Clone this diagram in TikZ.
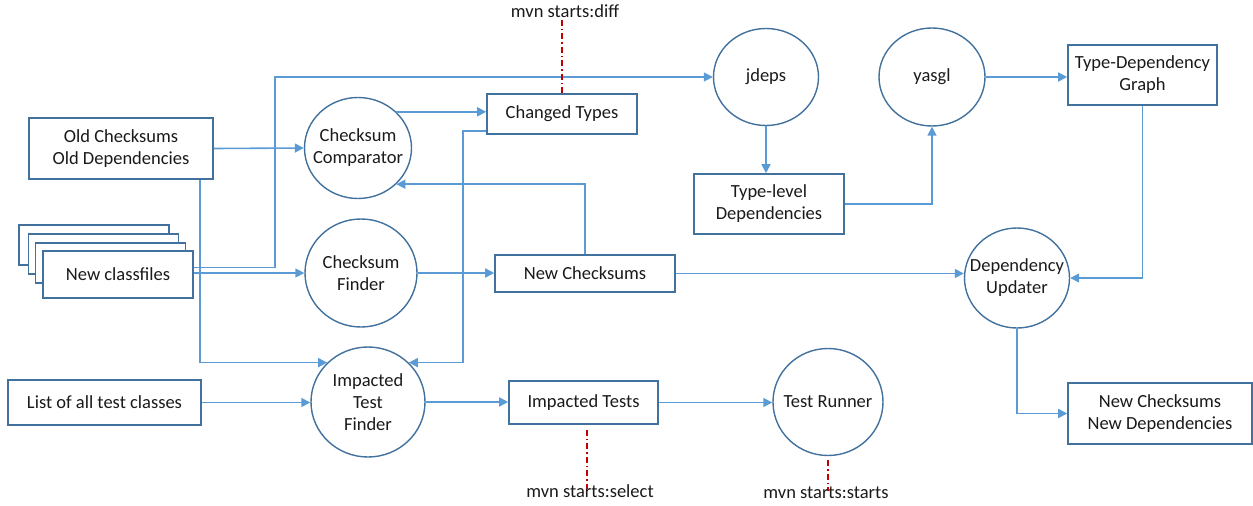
\documentclass[tikz,border=0pt]{standalone}
\usepackage{fontspec}
\setmainfont{Carlito}
\usetikzlibrary{shapes.geometric,arrows.meta,calc}
\definecolor{boxc}{HTML}{41719C}
\definecolor{arrc}{HTML}{5B9BD5}
\definecolor{redc}{HTML}{C00000}
\definecolor{txt}{HTML}{1A1A1A}
\tikzset{
  every node/.style={font=\fontsize{18.5}{22}\selectfont, text=txt},
  boxn/.style={draw=boxc, line width=1.6pt, fill=white, rectangle, align=center, inner sep=0pt},
  circn/.style={draw=boxc, line width=1.4pt, ellipse, inner sep=0pt},
  ctext/.style={align=center, inner sep=0pt},
  arr/.style={draw=arrc, line width=1.6pt, -{Triangle[length=9pt,width=9pt]}},
  redl/.style={draw=redc, line width=1.2pt, dash pattern=on 6pt off 3pt on 1.5pt off 3pt},
  lbl/.style={inner sep=0pt}
}
\begin{document}
\begin{tikzpicture}[x=1pt,y=-1pt]
\useasboundingbox (0,0) rectangle (1253,506);
% boxes
\node[boxn, minimum width=184pt, minimum height=61pt] (old) at (121,148.5) {Old Checksums\\Old Dependencies};
\node[boxn, minimum width=150pt, minimum height=40pt] (nc1) at (94,245) {};
\node[boxn, minimum width=150pt, minimum height=40pt] (nc2) at (103.5,254) {};
\node[boxn, minimum width=150pt, minimum height=40pt] (nc3) at (110.5,263) {};
\node[boxn, minimum width=150pt, minimum height=47pt] (nc) at (118,274.5) {New classfiles};
\node[boxn, minimum width=193pt, minimum height=45pt] (list) at (104.5,402.5) {List of all test classes};
\node[boxn, minimum width=150pt, minimum height=40pt] (ct) at (562,114) {Changed Types};
\node[boxn, minimum width=180pt, minimum height=37pt] (ncs) at (585,273.5) {New Checksums};
\node[boxn, minimum width=150pt, minimum height=60pt] (tld) at (769,204) {Type-level\\Dependencies};
\node[boxn, minimum width=149pt, minimum height=60pt] (tdg) at (1142.5,75) {Type-Dependency\\Graph};
\node[boxn, minimum width=184pt, minimum height=61pt] (ncnd) at (1160,413.5) {New Checksums\\New Dependencies};
\node[boxn, minimum width=149pt, minimum height=43pt] (it) at (583.5,402.5) {Impacted Tests};
% circles
\node[circn, minimum width=107pt, minimum height=101pt] (cc) at (358,148) {};
\node[ctext] (cct) at (cc.center) {Checksum\\Comparator};
\node[circn, minimum width=112pt, minimum height=108pt] (cf) at (361,273) {};
\node[ctext] (cft) at (cf.center) {Checksum\\Finder};
\node[circn, minimum width=114pt, minimum height=110pt] (itf) at (368,402) {};
\node[ctext] (itft) at (itf.center) {Impacted\\Test\\Finder};
\node[circn, minimum width=105pt, minimum height=97pt] (jd) at (766,77) {};
\node[ctext] (jdt) at (jd.center) {jdeps};
\node[circn, minimum width=106pt, minimum height=98pt] (ya) at (932,77) {};
\node[ctext] (yat) at (ya.center) {yasgl};
\node[circn, minimum width=105pt, minimum height=100pt] (du) at (1017,278) {};
\node[ctext] (dut) at (du.center) {Dependency\\Updater};
\node[circn, minimum width=110pt, minimum height=107pt] (tr) at (828,402) {};
\node[ctext] (trt) at (tr.center) {Test Runner};
% labels
\node[lbl] (ldiff) at (565,11) {mvn starts:diff};
\node[lbl] (lsel) at (590,491) {mvn starts:select};
\node[lbl] (lst) at (826,493) {mvn starts:starts};
% connectors
\draw[arr] (old.east) -- (cc.west);
\draw[arr] (nc.east |- cf.west) -- (cf.west);
\draw[arr] ([yshift=7pt]nc.east) -- ++(81,0) |- (jd.west);
\draw[arr] ([xshift=-14pt]old.south east) |- (itf.north west);
\draw[arr] (cc.north east) -- (cc.north east -| ct.west);
\draw[arr] ([yshift=-17pt]ct.west) -- ++(-23,0) |- (itf.north east);
\draw[arr] (ncs.north) |- (cc.south east);
\draw[arr] (cf.east) -- (cf.east -| ncs.west);
\draw[arr] (ncs.east) -- (ncs.east -| du.west);
\draw[arr] (jd.south) -- (jd.south |- tld.north);
\draw[arr] (tld.east) -| (ya.south);
\draw[arr] (ya.east) -- (ya.east -| tdg.west);
\draw[arr] (tdg.south) |- (du.east);
\draw[arr] (du.south) |- (ncnd.west);
\draw[arr] (list.east) -- (list.east -| itf.west);
\draw[arr] (itf.east) -- (itf.east -| it.west);
\draw[arr] (it.east) -- (it.east -| tr.west);
% red markers
\draw[redl] (ct.north) -- (ct.north |- ldiff.south);
\draw[redl] ([xshift=3.5pt,yshift=-5pt]it.south) -- ([xshift=3.5pt,yshift=-5pt]it.south |- lsel.north);
\draw[redl] ([yshift=-4pt]tr.south) -- ([yshift=-4pt]tr.south |- lst.north);
\end{tikzpicture}
\end{document}
